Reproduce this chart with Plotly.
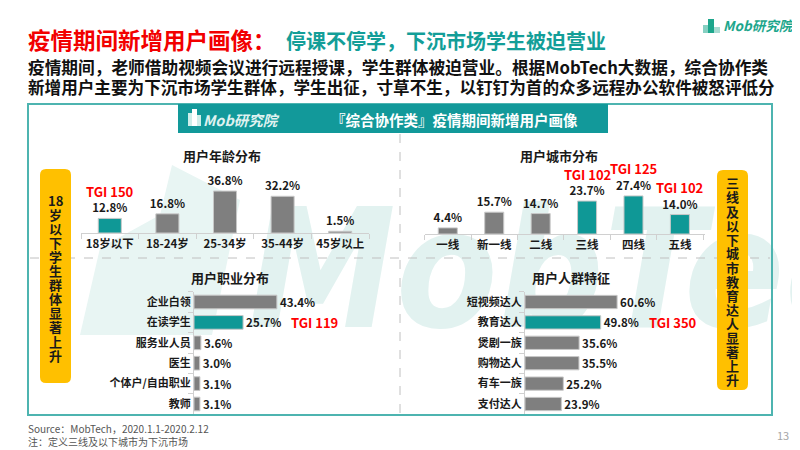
import plotly.graph_objects as go

W, H = 800, 450
OFF = 8  # the page body adds an 8px margin, so draw everything 8px up and left
FONT = "Noto Sans CJK SC"
TEAL = "#0f9896"
GRAY = "#7f7f7f"
TXT = "#1a1a1a"

# data
age_labels = ["18岁以下", "18-24岁", "25-34岁", "35-44岁", "45岁以上"]
age_values = [12.8, 16.8, 36.8, 32.2, 1.5]
age_tgi = {"18岁以下": 150}

city_labels = ["一线", "新一线", "二线", "三线", "四线", "五线"]
city_values = [4.4, 15.7, 14.7, 23.7, 27.4, 14.0]
city_tgi = {"三线": 102, "四线": 125, "五线": 102}

job_labels = ["企业白领", "在读学生", "服务业人员", "医生", "个体户/自由职业", "教师"]
job_values = [43.4, 25.7, 3.6, 3.0, 3.1, 3.1]
job_tgi = {"在读学生": 119}

tag_labels = ["短视频达人", "教育达人", "煲剧一族", "购物达人", "有车一族", "支付达人"]
tag_values = [60.6, 49.8, 35.6, 35.5, 25.2, 23.9]
tag_tgi = {"教育达人": 350}

left_note = ["18", "岁", "以", "下", "学", "生", "群", "体", "显", "著", "上", "升"]
right_note = list("三线及以下城市教育达人显著上升")


def px(x):
    return (x - OFF) / W


def py(y):
    return 1 - (y - OFF) / H


def colors(labels, tgi):
    return [TEAL if l in tgi else GRAY for l in labels]


fig = go.Figure()

bar_text = dict(family=FONT, size=11.5, color=TXT, weight="bold")
fig.add_trace(go.Bar(x=age_labels, y=age_values, xaxis="x", yaxis="y",
                     marker=dict(color=colors(age_labels, age_tgi), line=dict(color="#c8c8c8", width=1)),
                     width=0.4, text=[f"{v:.1f}%" for v in age_values], textposition="outside",
                     textfont=bar_text, cliponaxis=False, constraintext="none"))
fig.add_trace(go.Bar(x=city_labels, y=city_values, xaxis="x2", yaxis="y2",
                     marker=dict(color=colors(city_labels, city_tgi), line=dict(color="#c8c8c8", width=1)),
                     width=0.41, text=[f"{v:.1f}%" for v in city_values], textposition="outside",
                     textfont=bar_text, cliponaxis=False, constraintext="none"))
fig.add_trace(go.Bar(y=job_labels, x=job_values, orientation="h", xaxis="x3", yaxis="y3",
                     marker=dict(color=colors(job_labels, job_tgi), line=dict(color="#c8c8c8", width=1)),
                     width=0.67, text=[f"{v:.1f}%" for v in job_values], textposition="outside",
                     textfont=bar_text, cliponaxis=False, constraintext="none"))
fig.add_trace(go.Bar(y=tag_labels, x=tag_values, orientation="h", xaxis="x4", yaxis="y4",
                     marker=dict(color=colors(tag_labels, tag_tgi), line=dict(color="#c8c8c8", width=1)),
                     width=0.65, text=[f"{v:.1f}%" for v in tag_values], textposition="outside",
                     textfont=bar_text, cliponaxis=False, constraintext="none"))

cat_axis = dict(type="category", showline=True, linecolor="#d0d0d0", linewidth=1, ticks="outside",
                tickson="boundaries", ticklen=5, tickcolor="#d0d0d0", showgrid=False, fixedrange=True,
                tickfont=dict(family=FONT, size=11.5, color=TXT, weight="bold"))
val_axis = dict(visible=False, showgrid=False, zeroline=False, fixedrange=True)

fig.update_layout(
    width=W, height=H, autosize=False,
    margin=dict(l=0, r=0, t=0, b=0),
    paper_bgcolor="white", plot_bgcolor="rgba(0,0,0,0)",
    showlegend=False, bargap=0.4,
    font=dict(family=FONT, color=TXT),
    xaxis=dict(cat_axis, domain=[px(81), px(369)], anchor="y"),
    yaxis=dict(val_axis, domain=[py(233), py(176)], range=[0, 50], anchor="x"),
    xaxis2=dict(cat_axis, domain=[px(424.6), px(705.4)], anchor="y2"),
    yaxis2=dict(val_axis, domain=[py(234), py(185.35)], range=[0, 35], anchor="x2"),
    xaxis3=dict(val_axis, domain=[px(194), px(308.6)], range=[0, 60], anchor="y3"),
    yaxis3=dict(cat_axis, domain=[py(414.2), py(291.8)], autorange="reversed", anchor="x3",
                tickfont=dict(family=FONT, size=11, color=TXT, weight="bold")),
    xaxis4=dict(val_axis, domain=[px(525), px(646.6)], range=[0, 80], anchor="y4"),
    yaxis4=dict(cat_axis, domain=[py(414.2), py(291.8)], autorange="reversed", anchor="x4",
                tickfont=dict(family=FONT, size=11, color=TXT, weight="bold")),
)

shapes = []
# faint watermark
shapes.append(dict(type="path", xref="paper", yref="paper", layer="below", line=dict(width=0),
                   fillcolor="#e8f5f3",
                   path=f"M {px(80)},{py(335)} L {px(100)},{py(248)} L {px(160)},{py(215)} "
                        f"L {px(172)},{py(165)} L {px(240)},{py(200)} L {px(212)},{py(335)} Z"))
shapes.append(dict(type="rect", xref="paper", yref="paper", layer="below", line=dict(width=0),
                   x0=px(245), x1=px(790), y0=py(350), y1=py(165), fillcolor="rgba(0,0,0,0)",
                   label=dict(text="MobTech", textposition="middle left", padding=0,
                              font=dict(family="Liberation Sans Narrow, DejaVu Sans Condensed, Arial",
                                        size=165, color="#e2f2f0", weight="bold", style="italic"))))
# outer box and header band
shapes.append(dict(type="rect", xref="paper", yref="paper", x0=px(28), x1=px(772), y0=py(415), y1=py(104),
                   line=dict(color="#4db4b0", width=2), layer="below"))
shapes.append(dict(type="rect", xref="paper", yref="paper", x0=px(178), x1=px(608), y0=py(133), y1=py(104),
                   line=dict(width=0), fillcolor="#12999a"))
# dashed dividers
shapes.append(dict(type="line", xref="paper", yref="paper", x0=px(400), x1=px(400), y0=py(134), y1=py(413),
                   line=dict(color="#c0c0c0", width=1, dash="dash"), layer="below"))
shapes.append(dict(type="line", xref="paper", yref="paper", x0=px(30), x1=px(770), y0=py(258), y1=py(258),
                   line=dict(color="#c0c0c0", width=1, dash="dash"), layer="below"))


def rounded(x0, y0, x1, y1, r=6):
    rx, ry = r / W, r / H
    a, b, c, d = px(x0), py(y1), px(x1), py(y0)
    return (f"M {a + rx},{b} L {c - rx},{b} Q {c},{b} {c},{b + ry} L {c},{d - ry} Q {c},{d} {c - rx},{d} "
            f"L {a + rx},{d} Q {a},{d} {a},{d - ry} L {a},{b + ry} Q {a},{b} {a + rx},{b} Z")


shapes.append(dict(type="path", xref="paper", yref="paper", path=rounded(40, 169, 71, 383),
                   fillcolor="#ffc000", line=dict(width=0)))
shapes.append(dict(type="path", xref="paper", yref="paper", path=rounded(717, 170, 748, 390),
                   fillcolor="#ffc000", line=dict(width=0)))
# small logo icons
for (x0, y0, x1, c) in [(703, 25, 708, "#86d0c2"), (708, 19, 714, "#1da68c"), (714, 27, 720, "#a8dcd2")]:
    shapes.append(dict(type="rect", xref="paper", yref="paper", x0=px(x0), x1=px(x1), y0=py(33), y1=py(y0),
                       fillcolor=c, line=dict(width=0)))
for (x0, y0, x1, c) in [(188, 113, 192, "#cfeeea"), (192, 109, 197, "#ffffff"), (197, 115, 201, "#cfeeea")]:
    shapes.append(dict(type="rect", xref="paper", yref="paper", x0=px(x0), x1=px(x1), y0=py(126), y1=py(y0),
                       fillcolor=c, line=dict(width=0)))
fig.update_layout(shapes=shapes)

ann = []


def text(x, y, t, size, color=TXT, bold=True, xanchor="center", **kw):
    ann.append(dict(x=px(x), y=py(y), xref="paper", yref="paper", text=t, showarrow=False,
                    xanchor=xanchor, yanchor="middle", align=xanchor, borderpad=0,
                    font=dict(family=FONT, size=size, color=color, weight="bold" if bold else "normal"), **kw))


text(27, 39, "疫情期间新增用户画像：", 22.5, "#f20000", xanchor="left")
text(285, 40, "停课不停学，下沉市场学生被迫营业", 20, "#139e98", xanchor="left")
text(27, 67, "疫情期间，老师借助视频会议进行远程授课，学生群体被迫营业。根据MobTech大数据，综合协作类",
     16.7, "#111111", xanchor="left")
text(27, 87, "新增用户主要为下沉市场学生群体，学生出征，寸草不生，以钉钉为首的众多远程办公软件被怒评低分",
     16.6, "#111111", xanchor="left")
text(722, 25, "<i>Mob研究院</i>", 13.5, "#1da68c", xanchor="left")
text(202, 119, "<i>Mob研究院</i>", 14.5, "#dff2f0", xanchor="left")
text(454, 119, "『综合协作类』疫情期间新增用户画像", 14.5, "white")

text(222, 155, "用户年龄分布", 13)
text(559, 155, "用户城市分布", 13)
text(230, 277, "用户职业分布", 13)
text(571, 277, "用户人群特征", 13)

ys = [200 + i * 14.1 for i in range(len(left_note))]
for ch, yy in zip(left_note, ys):
    text(55.5, yy, ch, 13)
ys = [183 + i * 14.0 for i in range(len(right_note))]
for ch, yy in zip(right_note, ys):
    text(732.5, yy, ch, 13)

text(27, 428, "Source：MobTech，2020.1.1-2020.2.12", 10, "#555555", bold=False, xanchor="left")
text(27, 441, "注：定义三线及以下城市为下沉市场", 10, "#555555", bold=False, xanchor="left")
text(783, 435, "13", 11, "#a6a6a6", bold=False)

red = dict(family=FONT, size=13, color="#ff0000", weight="bold")
for labels, values, tgi, xr, yr in [(age_labels, age_values, age_tgi, "x", "y"),
                                   (city_labels, city_values, city_tgi, "x2", "y2")]:
    for l, v in zip(labels, values):
        if l in tgi:
            ann.append(dict(x=l, y=v, xref=xr, yref=yr, text=f"TGI {tgi[l]}", showarrow=False,
                            yanchor="middle", yshift=27, font=red))
for labels, values, tgi, xr, yr in [(job_labels, job_values, job_tgi, "x3", "y3"),
                                   (tag_labels, tag_values, tag_tgi, "x4", "y4")]:
    for l, v in zip(labels, values):
        if l in tgi:
            ann.append(dict(x=v, y=l, xref=xr, yref=yr, text=f"TGI {tgi[l]}", showarrow=False,
                            xanchor="left", align="left", xshift=46, font=red))

fig.update_layout(annotations=ann)

fig.write_html("out.html", config={"displayModeBar": False})
